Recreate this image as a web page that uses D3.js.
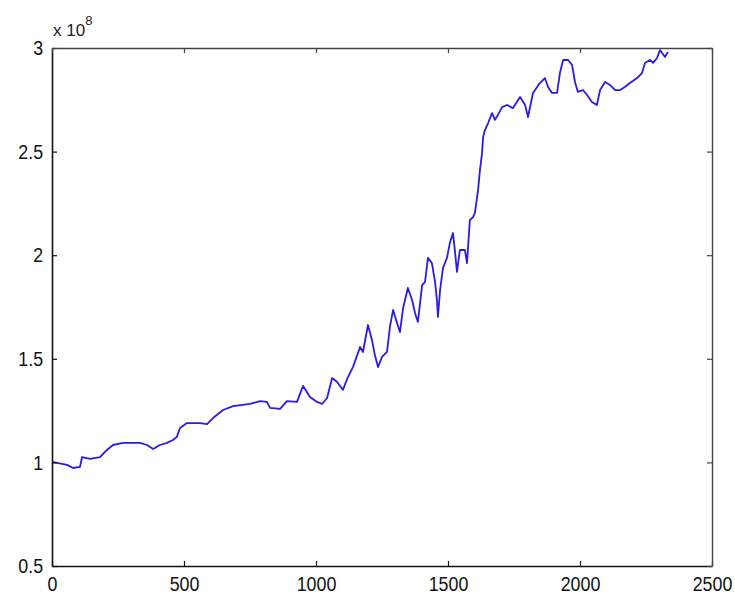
<!DOCTYPE html>
<html>
<head>
<meta charset="utf-8">
<script src="https://cdn.jsdelivr.net/npm/d3@7"></script>
<style>
  html, body { margin: 0; padding: 0; background: #fff; }
  svg { display: block; }
</style>
</head>
<body>
<div id="chart"></div>
<script>
// Sample index of each reading
const steps = [
  0, 57, 80, 106, 114, 144, 182, 208, 231, 269, 333, 360, 383, 409, 436, 458, 473, 485,
  511, 561, 587, 610, 648, 686, 750, 788, 814, 826, 864, 890, 928, 951, 977, 1004,
  1023, 1042, 1061, 1080, 1102, 1121, 1140, 1167, 1178, 1197, 1212, 1223, 1235, 1250,
  1269, 1280, 1292, 1307, 1318, 1330, 1348, 1364, 1375, 1386, 1402, 1413, 1424, 1439,
  1451, 1458, 1462, 1470, 1481, 1496, 1508, 1519, 1527, 1534, 1545, 1564, 1572, 1576,
  1583, 1595, 1602, 1614, 1621, 1629, 1633, 1640, 1652, 1667, 1678, 1689, 1705, 1724,
  1746, 1773, 1792, 1803, 1822, 1848, 1867, 1879, 1894, 1913, 1924, 1936, 1955, 1970,
  1981, 1992, 2011, 2027, 2045, 2064, 2076, 2095, 2114, 2133, 2152, 2170, 2189, 2216,
  2235, 2246, 2265, 2277, 2292, 2303, 2311, 2322, 2333
];
// Value at each sample, in units of 10^8
const values = [
  1.002, 0.988, 0.973, 0.978, 1.026, 1.017, 1.026, 1.060, 1.084, 1.094, 1.094, 1.084, 1.065, 1.084, 1.094, 1.108, 1.123, 1.166,
  1.190, 1.190, 1.185, 1.214, 1.253, 1.272, 1.282, 1.296, 1.292, 1.263, 1.258, 1.296, 1.292, 1.369, 1.316, 1.292,
  1.282, 1.311, 1.407, 1.388, 1.350, 1.412, 1.460, 1.557, 1.533, 1.663, 1.591, 1.518, 1.460, 1.509,
  1.533, 1.654, 1.736, 1.673, 1.629, 1.745, 1.842, 1.784, 1.721, 1.678, 1.856, 1.871, 1.987, 1.962,
  1.871, 1.784, 1.702, 1.832, 1.938, 1.987, 2.064, 2.107, 2.011, 1.919, 2.025, 2.025, 1.962, 2.040,
  2.170, 2.184, 2.204, 2.315, 2.411, 2.493, 2.570, 2.604, 2.638, 2.686, 2.653, 2.677, 2.715, 2.725,
  2.710, 2.764, 2.725, 2.667, 2.783, 2.831, 2.855, 2.812, 2.783, 2.783, 2.879, 2.942, 2.942, 2.918,
  2.836, 2.788, 2.797, 2.773, 2.739, 2.725, 2.797, 2.836, 2.821, 2.797, 2.797, 2.812, 2.831, 2.855,
  2.879, 2.928, 2.942, 2.928, 2.952, 2.990, 2.976, 2.957, 2.981
];
const xTicks = [0, 500, 1000, 1500, 2000, 2500];
const yTicks = [0.5, 1, 1.5, 2, 2.5, 3];
const yTickLabels = ["0.5", "1", "1.5", "2", "2.5", "3"];
const exponent = "8";

const W = 735, H = 595;
const margin = { left: 52, top: 48, right: 23, bottom: 29 };
const iw = W - margin.left - margin.right;
const ih = H - margin.top - margin.bottom;

const svg = d3.select("#chart").append("svg")
  .attr("width", W).attr("height", H)
  .style("font-family", "'Liberation Sans', Arial, sans-serif");

const plot = svg.append("g").attr("transform", `translate(${margin.left},${margin.top})`);

const x = d3.scaleLinear().domain([0, 2500]).range([0, iw]);
const y = d3.scaleLinear().domain([0.5, 3]).range([ih, 0]);

const points = steps.map((s, i) => [s, values[i]]);

// series line
plot.append("path")
  .datum(points)
  .attr("fill", "none")
  .attr("stroke", "#2a1be8")
  .attr("stroke-width", 1.8)
  .attr("stroke-linejoin", "round")
  .attr("d", d3.line().x(d => x(d[0])).y(d => y(d[1])));

const labelFont = 21, squeeze = 0.85;

// bottom axis with labels, ticks pointing inward
const axisB = plot.append("g")
  .attr("transform", `translate(0,${ih})`)
  .call(d3.axisBottom(x).tickValues(xTicks).tickFormat(d3.format("d"))
    .tickSizeInner(-5).tickSizeOuter(0).tickPadding(10));
// left axis
const axisL = plot.append("g")
  .call(d3.axisLeft(y).tickValues(yTicks).tickFormat((d, i) => yTickLabels[i])
    .tickSizeInner(-5).tickSizeOuter(0).tickPadding(10.5));
// top and right axes, ticks only
const axisT = plot.append("g")
  .call(d3.axisTop(x).tickValues(xTicks).tickFormat("").tickSizeInner(-5).tickSizeOuter(0));
const axisR = plot.append("g")
  .attr("transform", `translate(${iw},0)`)
  .call(d3.axisRight(y).tickValues(yTicks).tickFormat("").tickSizeInner(-5).tickSizeOuter(0));

[axisB, axisL].forEach(a => {
  a.attr("color", "#111");
  a.selectAll("path.domain").attr("stroke-width", 1.6);
  a.selectAll(".tick line").attr("stroke-width", 1.2);
  a.selectAll("text")
    .attr("font-size", labelFont)
    .attr("font-family", "'Liberation Sans', Arial, sans-serif")
    .attr("transform", `scale(${squeeze},1)`);
});
[axisT, axisR].forEach(a => {
  a.attr("color", "#444");
  a.selectAll("path.domain").attr("stroke-width", 1.4);
  a.selectAll(".tick line").attr("stroke-width", 1.2);
});

// exponent label for the y values
const expo = svg.append("text")
  .attr("x", margin.left + 1)
  .attr("y", 36)
  .attr("fill", "#222")
  .attr("font-size", 17);
expo.append("tspan").text("x 10");
expo.append("tspan").attr("dy", -11).attr("font-size", 13).text(exponent);
</script>
</body>
</html>
